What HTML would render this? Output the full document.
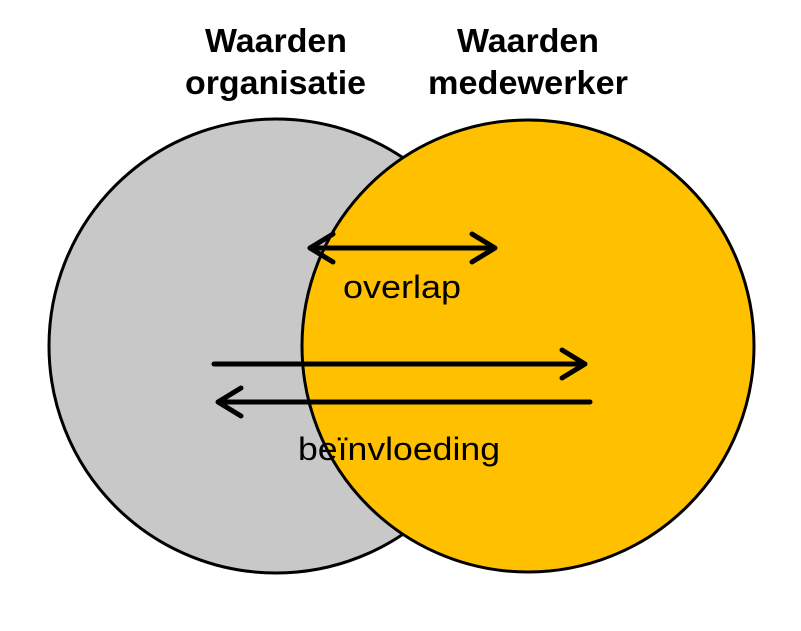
<!DOCTYPE html>
<html><head><meta charset="utf-8"><style>
html,body{margin:0;padding:0;background:#fff;}
</style></head><body>
<svg width="801" height="631" viewBox="0 0 801 631" xmlns="http://www.w3.org/2000/svg" style="display:block">
<rect width="801" height="631" fill="#fff"/>
<circle cx="276" cy="346" r="227" fill="#c8c8c8" stroke="#000" stroke-width="3"/>
<circle cx="528" cy="346" r="226" fill="#ffc000" stroke="#000" stroke-width="3"/>
<g stroke="#000" stroke-width="5" fill="none" stroke-linecap="round" stroke-linejoin="round">
<line x1="310" y1="248" x2="494" y2="248"/>
<polyline points="333,234 310,248 333,262"/>
<polyline points="472,234 495,248 472,262"/>
<line x1="214" y1="364" x2="584" y2="364"/>
<polyline points="562,350 585,364 562,378"/>
<line x1="219" y1="402" x2="590" y2="402"/>
<polyline points="241,388 218,402 241,416"/>
</g>
<g font-family="Liberation Sans, sans-serif" font-weight="bold" font-size="33" fill="#000">
<text x="205" y="52" textLength="142" lengthAdjust="spacingAndGlyphs">Waarden</text>
<text x="185" y="94" textLength="181" lengthAdjust="spacingAndGlyphs">organisatie</text>
<text x="457" y="52" textLength="142" lengthAdjust="spacingAndGlyphs">Waarden</text>
<text x="428" y="94" textLength="200" lengthAdjust="spacingAndGlyphs">medewerker</text>
</g>
<g font-family="Liberation Sans, sans-serif" font-size="32" fill="#000">
<text x="343" y="298" textLength="118" lengthAdjust="spacingAndGlyphs">overlap</text>
<text x="298" y="460" textLength="202" lengthAdjust="spacingAndGlyphs">beïnvloeding</text>
</g>
</svg>
</body></html>
